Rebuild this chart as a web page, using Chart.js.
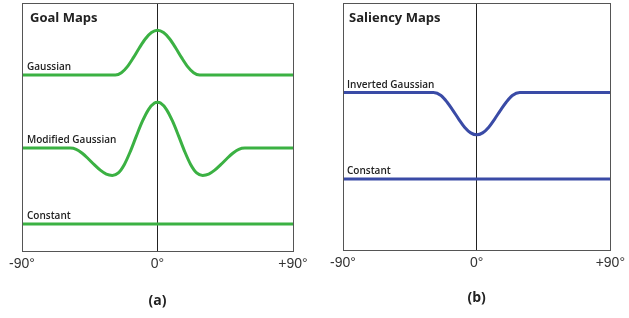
<!DOCTYPE html>
<html>
<head>
<meta charset="utf-8">
<script src="https://cdn.jsdelivr.net/npm/chart.js@4.4.0/dist/chart.umd.min.js"></script>
<style>
    html, body { margin: 0; padding: 0; background: #fff; }
    #wrap { position: relative; width: 629px; height: 318px; }
    .panel { position: absolute; top: 0; height: 318px; }
</style>
</head>
<body>
<div id="wrap">
    <div class="panel" style="left:0;width:316px"><canvas id="goalChart"></canvas></div>
    <div class="panel" style="left:316px;width:313px"><canvas id="salChart"></canvas></div>
</div>
<script>
// angulos (grados)
const gaussAngles = [-90, -28, -24, -20, -16, -12, -8, -4, 0, 4, 8, 12, 16, 20, 24, 28, 90];
const gaussian = [71, 71, 71.9, 74.4, 78, 82, 85.6, 88.1, 89, 88.1, 85.6, 82, 78, 74.4, 71.9, 71, 71];

const modAngles = [-90, -58, -54, -50, -46, -42, -38, -34, -30, -26, -22, -18, -14, -10, -6, -2, 0,
    2, 6, 10, 14, 18, 22, 26, 30, 34, 38, 42, 46, 50, 54, 58, 90];
const modifiedGaussian = [41.6, 41.6, 41.1, 39.5, 37.3, 34.9, 32.7, 31.1, 30.6, 31.6, 35, 40.3, 46.5, 52.4, 57.1, 59.7, 60,
    59.7, 57.1, 52.4, 46.5, 40.3, 35, 31.6, 30.6, 31.1, 32.7, 34.9, 37.3, 39.5, 41.1, 41.6, 41.6];

const constAngles = [-90, 90];
const goalConstant = [11, 11];

const invAngles = [-90, -29, -24, -20, -16, -12, -8, -4, 0, 4, 8, 12, 16, 20, 24, 29, 90];
const invertedGaussian = [63.8, 63.8, 62.6, 60, 56.6, 53, 49.7, 47.5, 46.7, 47.5, 49.7, 53, 56.6, 60, 62.6, 63.8, 63.8];
const salConstant = [28.9, 28.9];

const tickValues = [-90, 0, 90];
const tickLabels = ['-90°', '0°', '+90°'];

const GREEN = '#3bb143';
const BLUE = '#3a4ba6';

// cuadro del area y textos dentro de la grafica
const panelDecor = {
    id: 'panelDecor',
    afterDatasetsDraw(chart, args, opts) {
        const { ctx, chartArea: a, scales } = chart;
        ctx.save();
        ctx.strokeStyle = '#555';
        ctx.lineWidth = 1;
        ctx.strokeRect(Math.round(a.left) + 0.5, Math.round(a.top) + 0.5,
            Math.round(a.right - a.left), Math.round(a.bottom - a.top));

        ctx.fillStyle = '#222';
        ctx.textBaseline = 'alphabetic';
        ctx.font = 'bold 13px "Open Sans"';
        ctx.fillText(opts.heading, a.left + opts.headingDx, a.top + 19);

        ctx.font = '600 10px "Open Sans"';
        chart.data.datasets.forEach(ds => {
            const y = scales.y.getPixelForValue(ds.data[0].y);
            ctx.fillText(ds.label, a.left + opts.labelDx, y - 5);
        });
        ctx.restore();
    }
};

function makeChart(id, series, color, heading, caption, pad, titlePad, headingDx, labelDx) {
    return new Chart(document.getElementById(id).getContext('2d'), {
        type: 'line',
        data: {
            datasets: series.map(s => ({
                label: s.label,
                data: s.data.map((v, i) => ({ x: s.angles[i], y: v })),
                borderColor: color,
                borderWidth: 3,
                pointRadius: 0,
                cubicInterpolationMode: 'monotone',
                fill: false
            }))
        },
        options: {
            responsive: true,
            maintainAspectRatio: false,
            animation: false,
            layout: { padding: pad },
            plugins: {
                legend: { display: false },
                tooltip: { enabled: false },
                panelDecor: { heading: heading, headingDx: headingDx, labelDx: labelDx }
            },
            scales: {
                x: {
                    type: 'linear',
                    min: -90,
                    max: 90,
                    afterBuildTicks: axis => { axis.ticks = tickValues.map(v => ({ value: v })); },
                    ticks: {
                        autoSkip: false,
                        maxRotation: 0,
                        padding: 4,
                        color: '#333',
                        font: { family: '"Liberation Sans"', size: 14 },
                        callback: (v) => tickLabels[tickValues.indexOf(v)]
                    },
                    grid: {
                        drawTicks: false,
                        color: c => (c.tick && c.tick.value === 0) ? '#222' : 'rgba(0,0,0,0)'
                    },
                    border: { display: false },
                    title: {
                        display: true,
                        text: caption,
                        color: '#222',
                        font: { family: '"Open Sans"', size: 14, weight: 'bold' },
                        padding: { top: titlePad, bottom: 0 }
                    }
                },
                y: { display: false, min: 0, max: 100 }
            }
        },
        plugins: [panelDecor]
    });
}

makeChart('goalChart', [
    { label: 'Gaussian', angles: gaussAngles, data: gaussian },
    { label: 'Modified Gaussian', angles: modAngles, data: modifiedGaussian },
    { label: 'Constant', angles: constAngles, data: goalConstant }
], GREEN, 'Goal Maps', '(a)', { left: 22, right: 23, top: 3, bottom: 9 }, 16, 8, 5);

makeChart('salChart', [
    { label: 'Inverted Gaussian', angles: invAngles, data: invertedGaussian },
    { label: 'Constant', angles: constAngles, data: salConstant }
], BLUE, 'Saliency Maps', '(b)', { left: 27, right: 16, top: 3, bottom: 12 }, 14, 6, 4);
</script>
</body>
</html>
